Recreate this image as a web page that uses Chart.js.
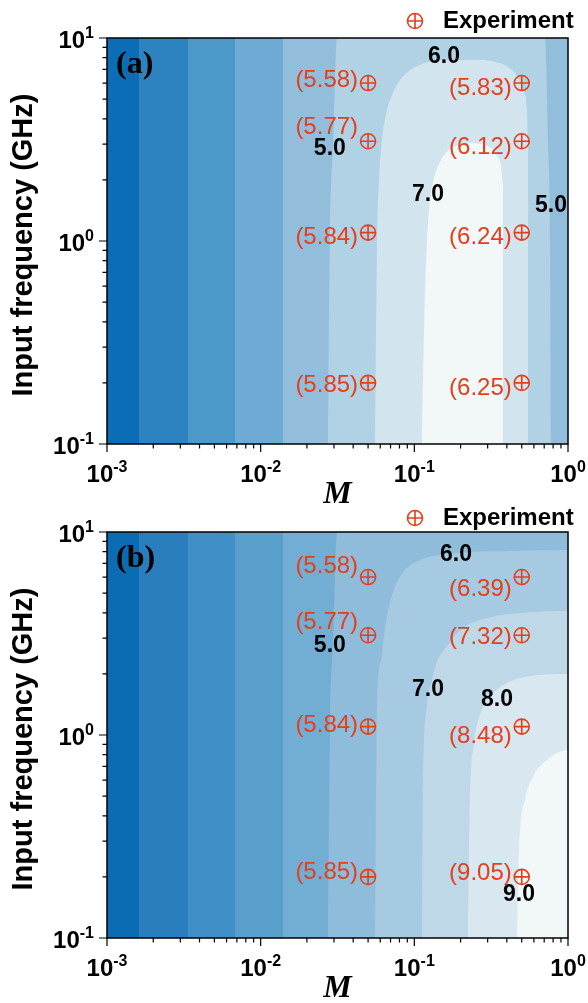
<!DOCTYPE html>
<html>
<head>
<meta charset="utf-8">
<script src="https://cdn.jsdelivr.net/npm/chart.js@4.4.0/dist/chart.umd.min.js"></script>
<style>
  html, body { margin: 0; padding: 0; background: #fff; }
  #wrap { position: relative; width: 588px; height: 1003px; overflow: hidden; }
  canvas { position: absolute; left: 0; }
  #chartA { top: 0; }
  #chartB { top: 494px; }
</style>
</head>
<body>
<div id="wrap">
  <canvas id="chartA" width="588" height="510" style="width:588px;height:510px"></canvas>
  <canvas id="chartB" width="588" height="509" style="width:588px;height:509px"></canvas>
</div>
<script>
// ---- data ----
const xTicks = [-3, -2, -1, 0];      // exponents of M
const yTicks = [-1, 0, 1];           // exponents of frequency (GHz)

const expM = [0.05, 0.5];
const expFreq = [6, 3.1, 1.1, 0.2];

// measured values printed next to each marker, one list per M column (top to bottom)
const measA = [[5.58, 5.77, 5.84, 5.85], [5.83, 6.12, 6.24, 6.25]];
const measB = [[5.58, 5.77, 5.84, 5.85], [6.39, 7.32, 8.48, 9.05]];

// filled contour regions (value >= level), as [M, f] boundary points
const contoursA = [
  [[0.001, 0.1], [0.001, 10], [1, 10], [1, 0.1]],
  [[0.00161, 0.1], [0.00161, 10], [1, 10], [1, 0.1]],
  [[0.00336, 0.1], [0.00336, 10], [1, 10], [1, 0.1]],
  [[0.00681, 0.1], [0.00681, 10], [1, 10], [1, 0.1]],
  [[0.01397, 0.1], [0.01397, 10], [1, 10], [1, 0.1]],
  [[0.0274, 0.1], [0.0282, 1], [0.0296, 3], [0.0314, 10], [0.708, 10], [0.741, 3], [0.764, 1], [0.775, 0.1]],
  [[0.0555, 0.1], [0.0571, 0.9], [0.0589, 2.0], [0.0616, 3.15], [0.0654, 4.18], [0.0716, 5.24], [0.0807, 6.21],
   [0.0966, 7.04], [0.1227, 7.62], [0.158, 7.79], [0.267, 7.79], [0.34, 7.62], [0.407, 7.2], [0.466, 6.5],
   [0.509, 5.54], [0.541, 4.42], [0.55, 3.15], [0.55, 0.1]],
  [[0.112, 0.1], [0.117, 0.512], [0.121, 1.01], [0.1265, 1.59], [0.1343, 2.04], [0.1469, 2.45], [0.1656, 2.78],
   [0.1924, 2.97], [0.2302, 3.04], [0.2756, 3.0], [0.3154, 2.87], [0.345, 2.65], [0.3665, 2.34], [0.378, 1.89],
   [0.378, 0.1]]
];
const contoursB = [
  [[0.001, 0.1], [0.001, 10], [1, 10], [1, 0.1]],
  [[0.00161, 0.1], [0.00161, 10], [1, 10], [1, 0.1]],
  [[0.00336, 0.1], [0.00336, 10], [1, 10], [1, 0.1]],
  [[0.00681, 0.1], [0.00681, 10], [1, 10], [1, 0.1]],
  [[0.01397, 0.1], [0.01397, 10], [1, 10], [1, 0.1]],
  [[0.0274, 0.1], [0.0282, 1], [0.0296, 3], [0.0314, 10], [1, 10], [1, 0.1]],
  [[0.0555, 0.1], [0.0571, 1.36], [0.0607, 2.34], [0.0644, 3.37], [0.0716, 4.89], [0.0783, 5.8], [0.0869, 6.5],
   [0.109, 7.28], [0.1469, 7.7], [0.2302, 7.97], [0.419, 8.06], [1, 8.15], [1, 0.1]],
  [[0.112, 0.1], [0.1137, 0.478], [0.121, 1.41], [0.13, 1.85], [0.138, 2.21], [0.1656, 2.78], [0.207, 3.37],
   [0.297, 3.77], [0.487, 3.99], [1, 4.08], [1, 0.1]],
  [[0.223, 0.1], [0.23, 0.478], [0.244, 0.893], [0.267, 1.255], [0.31, 1.54], [0.389, 1.78],
   [0.525, 1.93], [1, 2.0], [1, 0.1]],
  [[0.466, 0.1], [0.48, 0.271], [0.525, 0.478], [0.591, 0.621], [0.729, 0.753], [1, 0.843], [1, 0.1]]
];

// contour labels: text, M, f
const clabelsA = [['6.0', 0.156, 8.06], ['5.0', 0.0282, 2.84], ['7.0', 0.1227, 1.69], ['5.0', 0.775, 1.49]];
const clabelsB = [['6.0', 0.1866, 7.7], ['5.0', 0.0282, 2.74], ['7.0', 0.1227, 1.67], ['8.0', 0.345, 1.49], ['9.0', 0.48, 0.163]];

// ---- styling ----
const colorsA = ['#0b6db5', '#2d83bf', '#4b98c9', '#6eaad3', '#92bedc', '#b1d1e5', '#d2e5ee', '#f2f8f8'];
const colorsB = ['#0b6bb3', '#2a7ebd', '#408fc6', '#5aa0cd', '#72add4', '#8ebcda', '#a6cae1', '#bfd8e8', '#d9e8f0', '#f2f8f8'];
const RED = '#e2401c';
const SANS = '"Liberation Sans", Arial, Helvetica, sans-serif';
const SERIF = '"Liberation Serif", "Times New Roman", serif';

// pixel nudges of the red value labels (per column, per row)
const dyA = [[-3, -14, 5, 2], [5, 6, 5, 5]];
const dyB = [[-11, -13, -1, -5], [12, 2, 10, -4]];

function drawPow(ctx, exp, x, y, align) {
  const base = 'bold 24px ' + SANS, sup = 'bold 16px ' + SANS;
  ctx.font = base;
  const w1 = ctx.measureText('10').width;
  ctx.font = sup;
  const w2 = ctx.measureText(String(exp)).width;
  const x0 = align === 'center' ? x - (w1 + w2) / 2 : x - (w1 + w2);
  ctx.textAlign = 'left';
  ctx.textBaseline = 'alphabetic';
  ctx.font = base;
  ctx.fillText('10', x0, y);
  ctx.font = sup;
  ctx.fillText(String(exp), x0 + w1, y - 10);
}

function makePanel(id, contours, colors, meas, dys, clabels, panel) {
  const datasets = contours.map((pts, i) => ({
    data: pts.map(p => ({x: p[0], y: p[1]})),
    showLine: true,
    fill: 'start',
    backgroundColor: colors[i],
    borderColor: 'rgba(0,0,0,0)',
    borderWidth: 0,
    pointRadius: 0,
    cubicInterpolationMode: 'monotone',
    order: -i
  }));
  const expPts = [];
  expM.forEach(m => expFreq.forEach(f => expPts.push({x: m, y: f})));
  ['circle', 'cross'].forEach((st, k) => datasets.push({
    data: expPts,
    showLine: false,
    pointStyle: st,
    pointRadius: 7.5,
    pointBorderColor: RED,
    pointBackgroundColor: 'rgba(0,0,0,0)',
    pointBorderWidth: 1.6,
    order: -100 - k
  }));

  const decor = {
    id: 'decor' + id,
    afterDraw(chart) {
      const ctx = chart.ctx;
      const a = chart.chartArea;
      const sx = chart.scales.x, sy = chart.scales.y;
      ctx.save();

      // red value labels
      ctx.fillStyle = RED;
      ctx.font = '24px ' + SANS;
      ctx.textAlign = 'right';
      ctx.textBaseline = 'middle';
      expM.forEach((m, c) => expFreq.forEach((f, r) => {
        const px = sx.getPixelForValue(m), py = sy.getPixelForValue(f);
        ctx.fillText('(' + meas[c][r].toFixed(2) + ')', px - 10, py + dys[c][r]);
      }));

      // contour labels
      ctx.fillStyle = '#000';
      ctx.font = 'bold 23px ' + SANS;
      ctx.textAlign = 'center';
      clabels.forEach(([t, m, f]) => ctx.fillText(t, sx.getPixelForValue(m), sy.getPixelForValue(f)));

      // frame
      ctx.strokeStyle = '#000';
      ctx.lineWidth = 1.5;
      ctx.strokeRect(a.left, a.top, a.right - a.left, a.bottom - a.top);

      // ticks
      ctx.lineWidth = 1.2;
      ctx.beginPath();
      for (let d = xTicks[0]; d < xTicks[xTicks.length - 1]; d++) {
        for (let k = 1; k <= 9; k++) {
          const px = sx.getPixelForValue(k * Math.pow(10, d));
          ctx.moveTo(px, a.bottom);
          ctx.lineTo(px, a.bottom + (k === 1 ? 8 : 4.5));
        }
      }
      const pxEnd = sx.getPixelForValue(Math.pow(10, xTicks[xTicks.length - 1]));
      ctx.moveTo(pxEnd, a.bottom); ctx.lineTo(pxEnd, a.bottom + 8);
      for (let d = yTicks[0]; d < yTicks[yTicks.length - 1]; d++) {
        for (let k = 1; k <= 9; k++) {
          const py = sy.getPixelForValue(k * Math.pow(10, d));
          ctx.moveTo(a.left, py);
          ctx.lineTo(a.left - (k === 1 ? 8 : 4.5), py);
        }
      }
      const pyEnd = sy.getPixelForValue(Math.pow(10, yTicks[yTicks.length - 1]));
      ctx.moveTo(a.left, pyEnd); ctx.lineTo(a.left - 8, pyEnd);
      ctx.stroke();

      // tick labels
      ctx.fillStyle = '#000';
      xTicks.forEach(e => drawPow(ctx, e, sx.getPixelForValue(Math.pow(10, e)), a.bottom + 38, 'center'));
      yTicks.forEach(e => drawPow(ctx, e, a.left - 13, sy.getPixelForValue(Math.pow(10, e)) + 9.5, 'right'));

      // axis titles
      ctx.font = 'bold italic 32px ' + SERIF;
      ctx.textAlign = 'center';
      ctx.textBaseline = 'alphabetic';
      ctx.fillText('M', (a.left + a.right) / 2, a.bottom + 59);
      ctx.save();
      ctx.translate(24, (a.top + a.bottom) / 2 + 4);
      ctx.rotate(-Math.PI / 2);
      ctx.font = 'bold 29px ' + SANS;
      ctx.textBaseline = 'middle';
      ctx.fillText('Input frequency (GHz)', 0, 0);
      ctx.restore();

      // panel letter
      ctx.font = 'bold 32px ' + SERIF;
      ctx.textAlign = 'left';
      ctx.fillText(panel.letter, a.left + 9, a.top + 35);

      // legend
      const ly = panel.legendY;
      ctx.strokeStyle = RED;
      ctx.lineWidth = 1.6;
      ctx.beginPath();
      ctx.arc(415, ly, 7.5, 0, Math.PI * 2);
      ctx.moveTo(407.5, ly); ctx.lineTo(422.5, ly);
      ctx.moveTo(415, ly - 7.5); ctx.lineTo(415, ly + 7.5);
      ctx.stroke();
      ctx.fillStyle = '#000';
      ctx.font = 'bold 24px ' + SANS;
      ctx.textBaseline = 'middle';
      ctx.fillText('Experiment', 443, ly);
      ctx.restore();
    }
  };

  const canvas = document.getElementById(id);
  return new Chart(canvas, {
    type: 'scatter',
    data: {datasets},
    options: {
      responsive: false,
      animation: false,
      layout: {padding: {left: 107, right: 20, top: 38, bottom: canvas.height - 444}},
      scales: {
        x: {type: 'logarithmic', min: 1e-3, max: 1, display: false},
        y: {type: 'logarithmic', min: 0.1, max: 10, display: false}
      },
      plugins: {legend: {display: false}, tooltip: {enabled: false}}
    },
    plugins: [decor]
  });
}

makePanel('chartA', contoursA, colorsA, measA, dyA, clabelsA, {letter: '(a)', legendY: 21});
makePanel('chartB', contoursB, colorsB, measB, dyB, clabelsB, {letter: '(b)', legendY: 24});
</script>
</body>
</html>
